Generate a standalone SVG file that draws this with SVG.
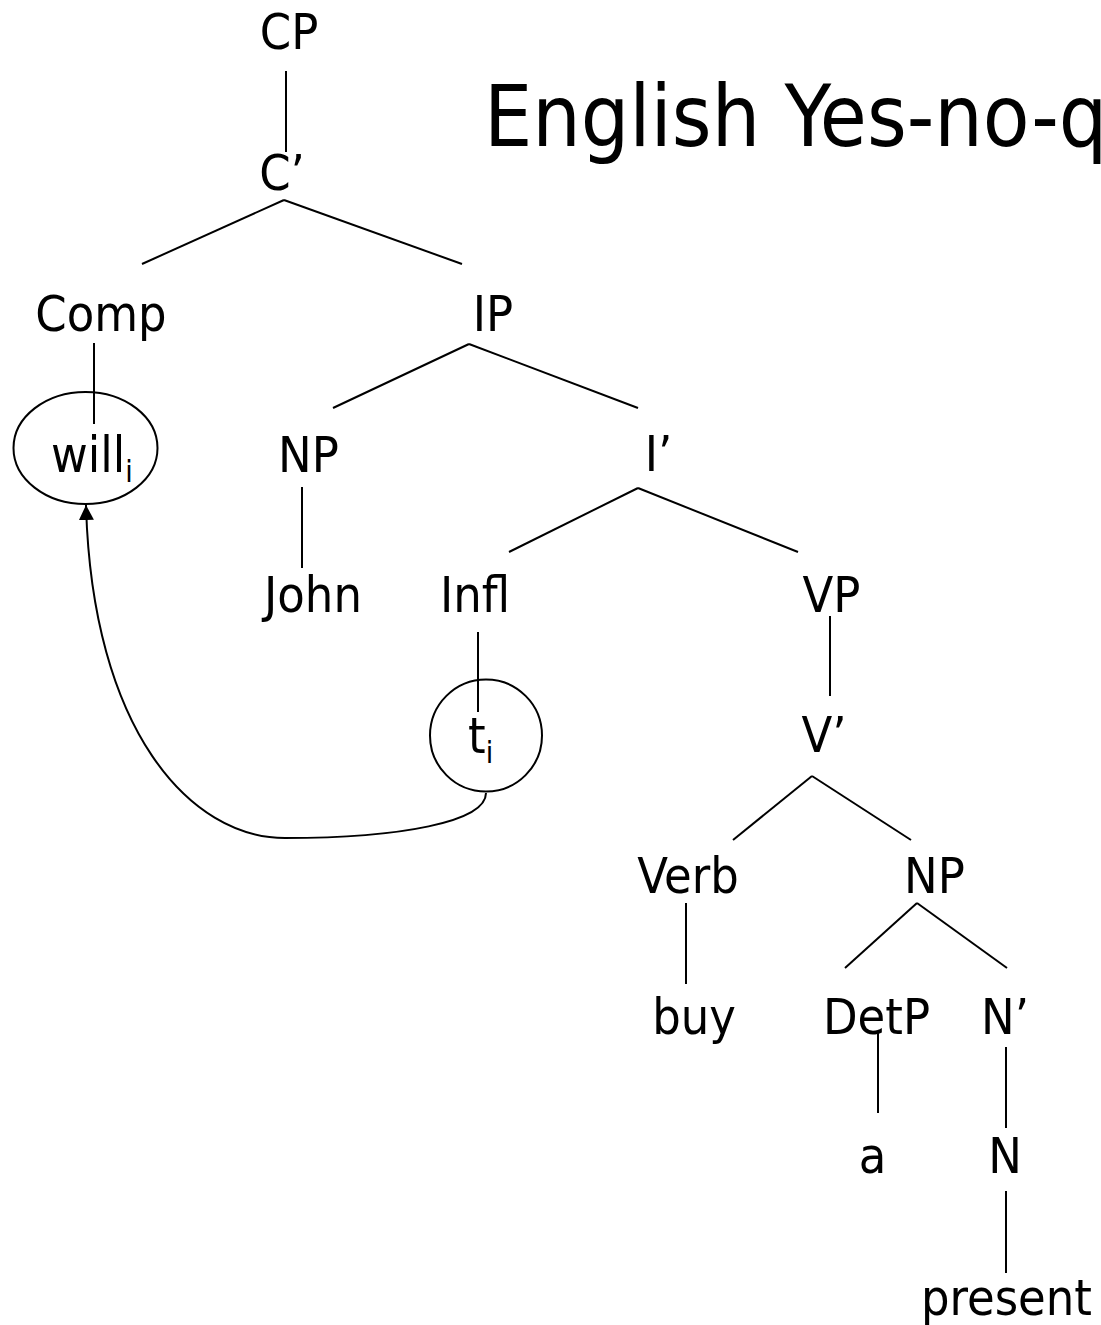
<svg xmlns="http://www.w3.org/2000/svg" width="1101" height="1325" viewBox="0 0 1101 1325">
<style>
text{font-family:"DejaVu Sans Condensed","DejaVu Sans",sans-serif;font-stretch:condensed;font-size:50px;fill:#000}
tspan{fill:#000}
.m{text-anchor:middle}
.sub{font-size:30px}
line,.c{stroke:#000;stroke-width:2;fill:none}
ellipse,circle{stroke:#000;stroke-width:2;fill:none}
</style>
<defs>
<marker id="ah" markerUnits="userSpaceOnUse" markerWidth="16" markerHeight="16" viewBox="0 0 16 16" refX="15" refY="7.5" orient="auto">
<path d="M0,0 L15,7.5 L0,15 z" fill="#000"/>
</marker>
</defs>
<rect width="1101" height="1325" fill="#fff"/>
<g id="title"><text x="484" y="146" style="font-size:85px">English Yes-no-q</text></g>
<g id="connectors">
<line x1="286" y1="71" x2="286" y2="152"/>
<line x1="284" y1="200" x2="142" y2="264"/>
<line x1="284" y1="200" x2="462" y2="264"/>
<line x1="94" y1="343" x2="94" y2="424"/>
<line x1="469" y1="344" x2="333" y2="408"/>
<line x1="469" y1="344" x2="638" y2="408"/>
<line x1="302" y1="487" x2="302" y2="568"/>
<line x1="638" y1="488" x2="509" y2="552"/>
<line x1="638" y1="488" x2="798" y2="552"/>
<line x1="478" y1="632" x2="478" y2="712"/>
<line x1="830" y1="616" x2="830" y2="696"/>
<line x1="812" y1="776" x2="733" y2="840"/>
<line x1="812" y1="776" x2="911" y2="840"/>
<line x1="686" y1="903" x2="686" y2="984"/>
<line x1="917" y1="903" x2="845" y2="968"/>
<line x1="917" y1="903" x2="1007" y2="968"/>
<line x1="878" y1="1032" x2="878" y2="1113"/>
<line x1="1006" y1="1047" x2="1006" y2="1128"/>
<line x1="1006" y1="1191" x2="1006" y2="1273"/>
<path class="c" d="M486,793 C486,822 400,838 285,838 C190,838 92,730 86,505" marker-end="url(#ah)"/>
</g>
<g id="n-cp"><text class="m" x="289" y="49">CP</text></g>
<g id="n-cbar"><text class="m" x="282" y="190">C’</text></g>
<g id="n-comp"><text class="m" x="101" y="331">Comp</text></g>
<g id="n-ip"><text class="m" x="493" y="331">IP</text></g>
<g id="n-will"><ellipse cx="85.5" cy="448" rx="72" ry="56"/><text x="51" y="472">will<tspan class="sub" dy="10">i</tspan></text></g>
<g id="n-np1"><text class="m" x="308.5" y="472">NP</text></g>
<g id="n-ibar"><text class="m" x="658.5" y="471">I’</text></g>
<g id="n-john"><text class="m" x="313" y="612">John</text></g>
<g id="n-infl"><text class="m" x="475" y="612">Infl</text></g>
<g id="n-vp"><text class="m" x="831.5" y="612">VP</text></g>
<g id="n-t"><circle cx="486" cy="735.5" r="56"/><text x="468" y="753">t<tspan class="sub" dy="10">i</tspan></text></g>
<g id="n-vbar"><text class="m" x="824" y="752">V’</text></g>
<g id="n-verb"><text class="m" x="688" y="893">Verb</text></g>
<g id="n-np2"><text class="m" x="934.5" y="893">NP</text></g>
<g id="n-buy"><text class="m" x="694" y="1034">buy</text></g>
<g id="n-detp"><text class="m" x="876.5" y="1034">DetP</text></g>
<g id="n-nbar"><text class="m" x="1005" y="1034">N’</text></g>
<g id="n-a"><text class="m" x="872.5" y="1173">a</text></g>
<g id="n-n"><text class="m" x="1005" y="1173">N</text></g>
<g id="n-present"><text class="m" x="1006.5" y="1315">present</text></g>
</svg>
